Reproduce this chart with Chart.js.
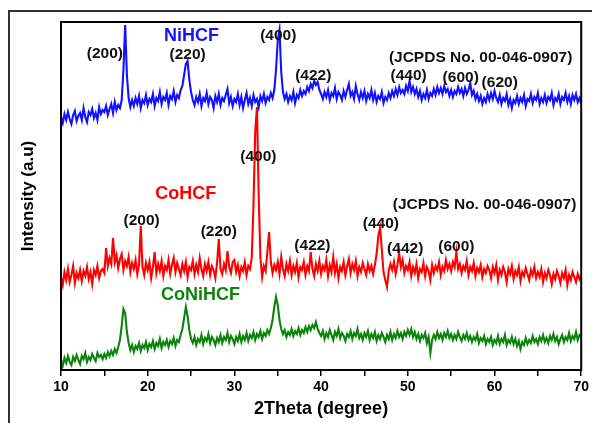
<!DOCTYPE html>
<html>
<head>
<meta charset="utf-8">
<script src="https://cdn.jsdelivr.net/npm/chart.js@4.4.1/dist/chart.umd.min.js"></script>
<style>
  html, body { margin: 0; padding: 0; background: #fff; }
  #wrap { width: 592px; height: 423px; }
</style>
</head>
<body>
<div id="wrap"><canvas id="xrdChart" width="592" height="423"></canvas></div>
<script>
// 2theta from 10 to 70 in 0.2 degree steps
const angleStart = 10, angleStep = 0.2;

// NiHCF (blue, top)
const niHCF = [
  253,247,256,250,258,251,246,255,259,249,254,257,250,262,253,248,258,255,261,252,257,250,263,256,260,
  258,264,255,261,266,257,268,260,265,262,270,300,345,295,272,263,270,264,272,266,274,262,270,267,275,
  265,271,268,276,264,272,269,278,266,273,270,277,265,274,271,279,268,275,272,280,284,295,306,309,290,
  278,270,265,273,268,276,264,272,269,277,266,273,270,262,274,268,276,265,272,269,275,281,267,273,264,
  271,268,276,265,273,262,270,277,266,272,264,275,268,271,263,274,269,276,267,273,270,277,272,280,300,
  330,340,298,278,271,276,268,274,270,278,267,275,272,280,274,279,276,283,279,286,282,289,285,288,280,
  276,271,278,273,280,270,277,274,282,271,278,275,270,279,273,280,286,274,278,271,284,276,270,278,272,
  279,269,276,272,280,270,277,268,274,271,278,267,273,270,277,272,279,274,281,275,283,277,280,276,284,
  279,289,278,283,276,281,273,279,270,276,272,280,271,277,274,281,275,283,277,282,276,284,278,281,274,
  280,273,279,276,283,277,281,274,282,276,280,287,275,279,271,276,269,274,266,272,268,276,270,277,271,
  279,272,268,275,266,272,269,276,265,271,262,270,267,274,266,272,268,275,264,271,269,276,267,273,270,
  277,266,272,268,275,267,273,270,277,265,272,269,276,266,273,270,277,268,274,266,275,270,276,268,272,
  266
];

// CoHCF (red, middle)
const coHCF = [
  93,85,98,90,101,88,95,104,87,97,92,100,89,99,94,103,91,98,86,100,95,104,92,99,101,
  97,122,104,112,106,132,108,115,102,111,116,100,109,104,113,98,107,101,110,96,105,144,103,95,107,
  100,108,92,103,118,97,106,99,109,94,104,100,110,96,105,112,98,107,101,95,106,99,108,93,103,
  100,109,96,105,98,112,101,94,106,99,108,95,104,100,92,107,131,101,96,106,100,119,103,97,108,
  110,98,105,94,103,99,108,95,104,101,112,165,238,263,175,112,93,104,99,118,138,108,97,105,100,
  108,96,113,101,94,106,99,109,95,104,98,107,93,103,100,108,95,104,99,118,101,94,106,99,109,
  96,104,100,110,94,105,98,113,97,106,92,103,99,108,95,104,111,97,106,100,109,94,103,98,107,
  101,95,106,99,104,96,105,116,134,142,121,98,90,83,99,106,100,108,96,105,117,103,110,97,104,
  100,108,94,103,97,106,92,101,98,107,94,103,99,90,105,97,104,100,108,95,103,99,110,101,106,
  99,108,103,118,101,106,97,104,100,109,95,103,99,107,94,102,98,105,93,101,97,104,100,92,103,
  97,105,90,100,95,103,98,88,101,96,104,91,99,95,103,89,98,94,102,96,90,100,95,103,92,
  98,93,101,88,97,92,100,95,86,96,91,99,94,87,97,92,100,85,95,90,98,93,88,96,91,
  95
];

// CoNiHCF (green, bottom)
const coNiHCF = [
  10,4,12,7,14,8,5,13,9,15,10,6,14,11,17,8,13,10,16,12,9,17,13,15,11,
  16,12,18,14,19,15,21,17,23,30,44,61,57,38,27,20,25,18,24,21,27,19,25,22,28,
  20,26,23,29,21,27,24,31,22,28,25,30,23,29,26,32,24,30,28,35,41,52,63,54,40,
  31,27,33,25,31,28,35,26,32,29,36,27,33,30,25,32,28,35,27,33,30,37,28,34,31,
  26,33,29,36,28,34,30,37,29,35,32,38,30,36,33,39,31,37,34,40,36,42,50,63,73,
  65,50,41,36,40,33,38,35,41,34,39,36,42,35,40,37,43,38,44,40,45,42,48,41,37,
  34,39,31,37,33,40,35,30,38,34,41,32,37,34,29,36,33,39,31,37,34,41,32,36,30,
  37,33,39,30,36,32,38,29,35,31,37,33,28,35,31,38,30,36,32,39,33,37,31,38,34,
  40,35,41,33,38,31,36,29,35,32,37,27,33,17,30,35,31,38,32,36,30,37,33,39,32,
  36,30,35,31,38,33,29,35,31,37,30,34,28,33,30,36,27,32,29,34,26,31,28,33,25,
  30,27,34,26,31,28,35,25,30,27,33,26,31,24,29,21,28,25,32,26,30,27,34,28,31,
  26,33,29,35,28,32,27,34,30,36,29,33,26,31,35,28,33,30,37,29,34,31,38,30,35,
  33
];

const seriesNames = ["NiHCF", "CoHCF", "CoNiHCF"];
const seriesColors = ["#1212ff", "#ff0000", "#0a840a"];
const xTickLabels = [10, 20, 30, 40, 50, 60, 70];

// text labels: [text, 2theta, intensity]
const peakLabels = [
  ["(200)", 15.06, 316], ["(220)", 24.6, 315], ["(400)", 35.06, 334], ["(422)", 39.1, 294],
  ["(440)", 50.1, 294], ["(600)", 56.1, 292], ["(620)", 60.6, 287],
  ["(JCPDS No. 00-046-0907)", 58.4, 312],
  ["(400)", 32.76, 213], ["(200)", 19.3, 149], ["(220)", 28.2, 138], ["(422)", 39.0, 124],
  ["(440)", 46.9, 146], ["(442)", 49.7, 121], ["(600)", 55.6, 123],
  ["(JCPDS No. 00-046-0907)", 58.85, 165]
];
const nameLabels = [["NiHCF", 25.06, 334], ["CoHCF", 24.4, 176], ["CoNiHCF", 26.1, 75]];

const toPoints = vals => vals.map((v, i) => ({ x: angleStart + i * angleStep, y: v }));
const allSeries = [niHCF, coHCF, coNiHCF];

const decorPlugin = {
  id: "decor",
  beforeDraw(chart) {
    const c = chart.ctx;
    c.save();
    c.fillStyle = "#fff";
    c.fillRect(0, 0, chart.width, chart.height);
    // outer frame
    c.strokeStyle = "#333";
    c.lineWidth = 2;
    c.beginPath();
    c.moveTo(9, chart.height);
    c.lineTo(9, 11);
    c.lineTo(chart.width, 11);
    c.stroke();
    c.restore();
  },
  afterDraw(chart) {
    const c = chart.ctx;
    const a = chart.chartArea;
    const xs = chart.scales.x, ys = chart.scales.y;
    c.save();
    c.strokeStyle = "#000";
    c.lineWidth = 2;
    c.strokeRect(a.left, a.top, a.right - a.left, a.bottom - a.top);
    c.textAlign = "center";
    c.textBaseline = "middle";
    c.font = 'bold 15.5px "Liberation Sans", Arial, sans-serif';
    c.fillStyle = "#111";
    peakLabels.forEach(([t, x, y]) => c.fillText(t, xs.getPixelForValue(x), ys.getPixelForValue(y)));
    c.font = 'bold 18px "Liberation Sans", Arial, sans-serif';
    nameLabels.forEach(([t, x, y], i) => {
      c.fillStyle = seriesColors[i];
      c.fillText(t, xs.getPixelForValue(x), ys.getPixelForValue(y));
    });
    c.restore();
  }
};

new Chart("xrdChart", {
  type: "line",
  data: {
    datasets: allSeries.map((vals, i) => ({
      label: seriesNames[i],
      data: toPoints(vals),
      borderColor: seriesColors[i],
      borderWidth: 2.1,
      pointRadius: 0,
      tension: 0,
      fill: false
    }))
  },
  options: {
    responsive: false,
    animation: false,
    layout: { padding: { top: 22, right: 9, left: 0, bottom: 0 } },
    plugins: {
      legend: { display: false },
      tooltip: { enabled: false }
    },
    scales: {
      x: {
        type: "linear",
        min: 10,
        max: 70,
        afterFit: s => { s.height = 53; },
        ticks: {
          stepSize: 5,
          padding: 3,
          color: "#000",
          font: { family: "Liberation Sans", size: 14, weight: "bold" },
          callback: v => (xTickLabels.includes(v) ? v : "")
        },
        grid: { drawOnChartArea: false, drawTicks: true, tickLength: 6, color: "#000", lineWidth: 1.5 },
        border: { display: true, color: "#000", width: 2 },
        title: {
          display: true,
          text: "2Theta (degree)",
          color: "#000",
          padding: { top: 0, bottom: 3 },
          font: { family: "Liberation Sans", size: 18, weight: "bold" }
        }
      },
      y: {
        min: 0,
        max: 348,
        afterFit: s => { s.width = 61; },
        ticks: { display: false },
        grid: { display: false },
        border: { display: false },
        title: {
          display: true,
          text: "Intensity (a.u)",
          color: "#000",
          padding: { top: 18, bottom: 0 },
          font: { family: "Liberation Sans", size: 17, weight: "bold" }
        }
      }
    }
  },
  plugins: [decorPlugin]
});
</script>
</body>
</html>
